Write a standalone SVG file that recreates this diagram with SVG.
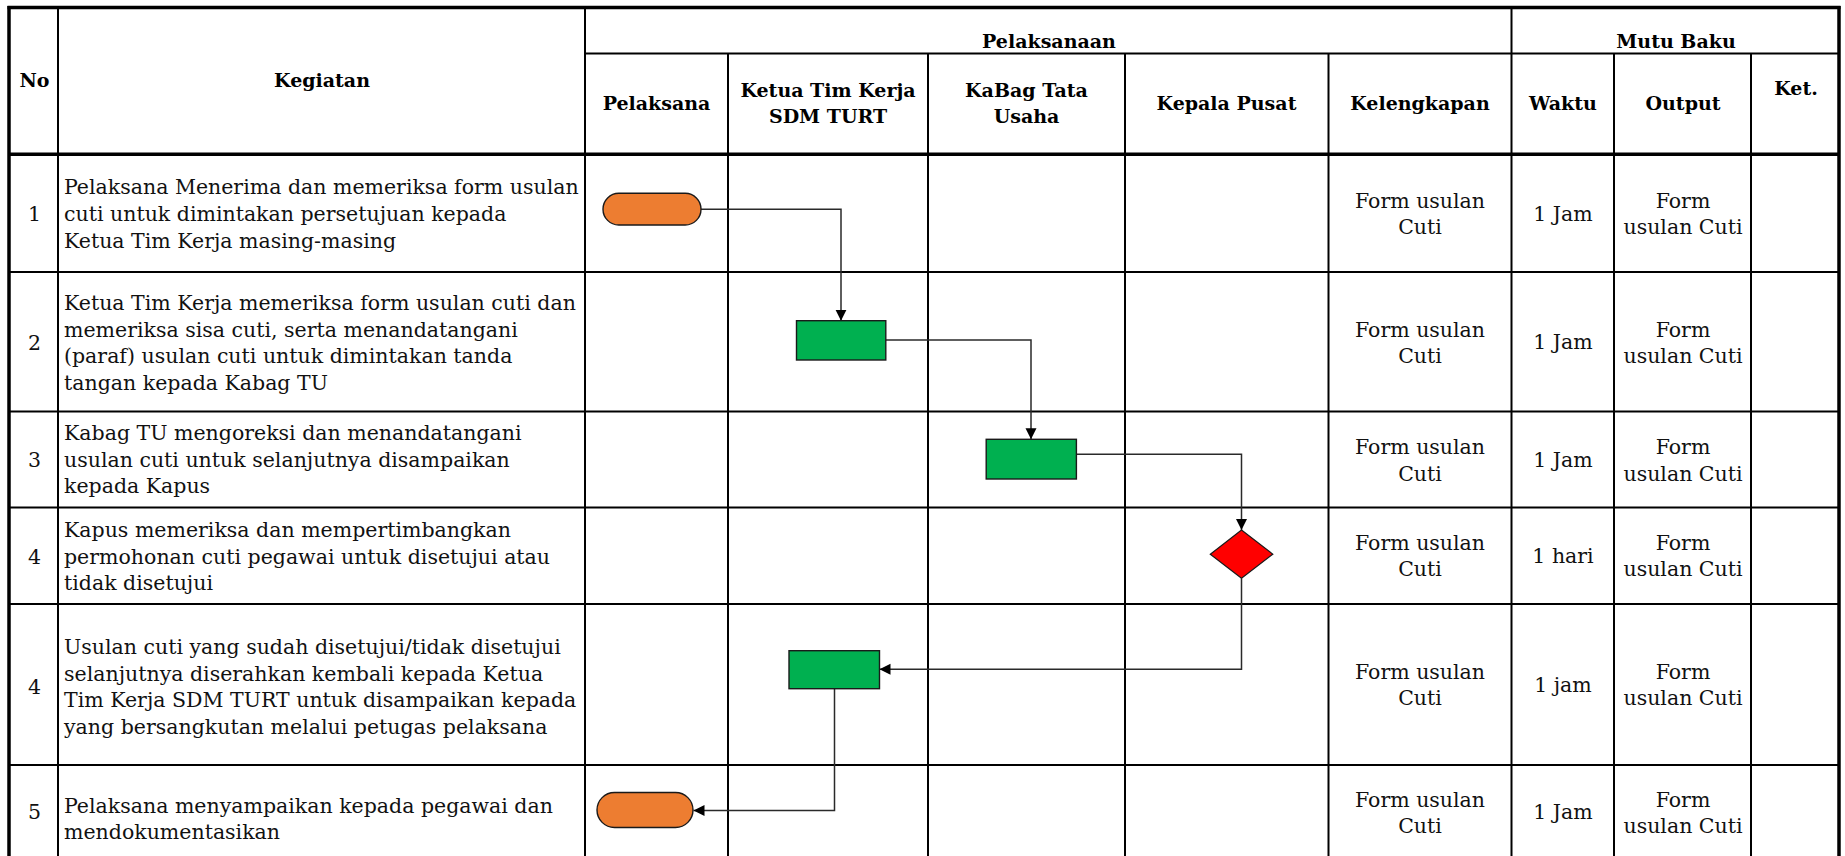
<svg xmlns="http://www.w3.org/2000/svg" width="1845" height="856" viewBox="0 0 1845 856">
<style>
.t{font-family:"DejaVu Serif","Liberation Serif",serif;font-size:20.5px;fill:#111}
.h{font-family:"DejaVu Serif","Liberation Serif",serif;font-size:19px;font-weight:bold;fill:#000}
.c{text-anchor:middle}
.thin{stroke:#000;stroke-width:2;fill:none}
.thick{stroke:#000;stroke-width:3.5;fill:none}
.term{fill:#ED7D31;stroke:#1a1a1a;stroke-width:1.4}
.proc{fill:#00B050;stroke:#1a1a1a;stroke-width:1.4}
.dec{fill:#FF0000;stroke:#1a1a1a;stroke-width:1.2}
.conn{stroke:#2a2a2a;stroke-width:1.5;fill:none}
</style>
<defs>
<marker id="arr" markerUnits="userSpaceOnUse" markerWidth="12" markerHeight="12" viewBox="0 0 12 12" refX="11" refY="6" orient="auto">
<path d="M0,0.5 L11,6 L0,11.5 Z" fill="#000"/>
</marker>
</defs>
<rect width="1845" height="856" fill="#fff"/>
<g id="table">
<line class="thin" x1="585" y1="53.5" x2="1839" y2="53.5"/>
<line class="thin" x1="9" y1="272" x2="1839" y2="272"/>
<line class="thin" x1="9" y1="411.5" x2="1839" y2="411.5"/>
<line class="thin" x1="9" y1="507.5" x2="1839" y2="507.5"/>
<line class="thin" x1="9" y1="604" x2="1839" y2="604"/>
<line class="thin" x1="9" y1="765" x2="1839" y2="765"/>
<line class="thin" x1="58" y1="7.5" x2="58" y2="856"/>
<line class="thin" x1="585" y1="7.5" x2="585" y2="856"/>
<line class="thin" x1="728" y1="53.5" x2="728" y2="856"/>
<line class="thin" x1="928" y1="53.5" x2="928" y2="856"/>
<line class="thin" x1="1125" y1="53.5" x2="1125" y2="856"/>
<line class="thin" x1="1328.5" y1="53.5" x2="1328.5" y2="856"/>
<line class="thin" x1="1511.5" y1="7.5" x2="1511.5" y2="856"/>
<line class="thin" x1="1614" y1="53.5" x2="1614" y2="856"/>
<line class="thin" x1="1751" y1="53.5" x2="1751" y2="856"/>
<line class="thick" x1="9" y1="154.3" x2="1839" y2="154.3"/>
<line class="thick" x1="7.5" y1="7.5" x2="1840.5" y2="7.5"/>
<line class="thick" x1="9" y1="6" x2="9" y2="856"/>
<line class="thick" x1="1839" y1="6" x2="1839" y2="856"/>
</g>
<g id="header">
<text class="h c" x="34.5" y="87">No</text>
<text class="h c" x="322" y="87">Kegiatan</text>
<text class="h c" x="1049" y="48">Pelaksanaan</text>
<text class="h c" x="1676" y="48">Mutu Baku</text>
<text class="h c" x="656.5" y="110">Pelaksana</text>
<text class="h c" x="828" y="97">Ketua Tim Kerja</text>
<text class="h c" x="828" y="123">SDM TURT</text>
<text class="h c" x="1026.5" y="97">KaBag Tata</text>
<text class="h c" x="1026.5" y="123">Usaha</text>
<text class="h c" x="1226.5" y="110">Kepala Pusat</text>
<text class="h c" x="1420" y="110">Kelengkapan</text>
<text class="h c" x="1563" y="110">Waktu</text>
<text class="h c" x="1683" y="110">Output</text>
<text class="h c" x="1796" y="95">Ket.</text>
</g>
<g id="row1">
<text class="t c" x="34.5" y="221">1</text>
<text class="t" x="64" y="194">Pelaksana Menerima dan memeriksa form usulan</text>
<text class="t" x="64" y="221">cuti untuk dimintakan persetujuan kepada</text>
<text class="t" x="64" y="248">Ketua Tim Kerja masing-masing</text>
<text class="t c" x="1420" y="208">Form usulan</text>
<text class="t c" x="1420" y="234">Cuti</text>
<text class="t c" x="1563" y="221">1 Jam</text>
<text class="t c" x="1683" y="208">Form</text>
<text class="t c" x="1683" y="234">usulan Cuti</text>
</g>
<g id="row2">
<text class="t c" x="34.5" y="349.5">2</text>
<text class="t" x="64" y="310">Ketua Tim Kerja memeriksa form usulan cuti dan</text>
<text class="t" x="64" y="336.7">memeriksa sisa cuti, serta menandatangani</text>
<text class="t" x="64" y="363.3">(paraf) usulan cuti untuk dimintakan tanda</text>
<text class="t" x="64" y="390">tangan kepada Kabag TU</text>
<text class="t c" x="1420" y="336.7">Form usulan</text>
<text class="t c" x="1420" y="362.7">Cuti</text>
<text class="t c" x="1563" y="349.3">1 Jam</text>
<text class="t c" x="1683" y="336.7">Form</text>
<text class="t c" x="1683" y="362.7">usulan Cuti</text>
</g>
<g id="row3">
<text class="t c" x="34.5" y="467">3</text>
<text class="t" x="64" y="440">Kabag TU mengoreksi dan menandatangani</text>
<text class="t" x="64" y="466.7">usulan cuti untuk selanjutnya disampaikan</text>
<text class="t" x="64" y="493">kepada Kapus</text>
<text class="t c" x="1420" y="454.3">Form usulan</text>
<text class="t c" x="1420" y="480.7">Cuti</text>
<text class="t c" x="1563" y="467.3">1 Jam</text>
<text class="t c" x="1683" y="454.3">Form</text>
<text class="t c" x="1683" y="480.7">usulan Cuti</text>
</g>
<g id="row4">
<text class="t c" x="34.5" y="563.5">4</text>
<text class="t" x="64" y="537">Kapus memeriksa dan mempertimbangkan</text>
<text class="t" x="64" y="563.5">permohonan cuti pegawai untuk disetujui atau</text>
<text class="t" x="64" y="590">tidak disetujui</text>
<text class="t c" x="1420" y="550">Form usulan</text>
<text class="t c" x="1420" y="576">Cuti</text>
<text class="t c" x="1563" y="562.7">1 hari</text>
<text class="t c" x="1683" y="550">Form</text>
<text class="t c" x="1683" y="576">usulan Cuti</text>
</g>
<g id="row5">
<text class="t c" x="34.5" y="693.5">4</text>
<text class="t" x="64" y="653.5">Usulan cuti yang sudah disetujui/tidak disetujui</text>
<text class="t" x="64" y="680.5">selanjutnya diserahkan kembali kepada Ketua</text>
<text class="t" x="64" y="707.3">Tim Kerja SDM TURT untuk disampaikan kepada</text>
<text class="t" x="64" y="734">yang bersangkutan melalui petugas pelaksana</text>
<text class="t c" x="1420" y="679.3">Form usulan</text>
<text class="t c" x="1420" y="705">Cuti</text>
<text class="t c" x="1563" y="691.7">1 jam</text>
<text class="t c" x="1683" y="679.3">Form</text>
<text class="t c" x="1683" y="705">usulan Cuti</text>
</g>
<g id="row6">
<text class="t c" x="34.5" y="819">5</text>
<text class="t" x="64" y="812.7">Pelaksana menyampaikan kepada pegawai dan</text>
<text class="t" x="64" y="839">mendokumentasikan</text>
<text class="t c" x="1420" y="806.7">Form usulan</text>
<text class="t c" x="1420" y="832.7">Cuti</text>
<text class="t c" x="1563" y="819.3">1 Jam</text>
<text class="t c" x="1683" y="806.7">Form</text>
<text class="t c" x="1683" y="832.7">usulan Cuti</text>
</g>
<g id="connectors">
<polyline class="conn" points="701,209.2 841,209.2 841,320.7" marker-end="url(#arr)"/>
<polyline class="conn" points="886,340 1031,340 1031,439.3" marker-end="url(#arr)"/>
<polyline class="conn" points="1077,454.3 1241.5,454.3 1241.5,530" marker-end="url(#arr)"/>
<polyline class="conn" points="1241.5,578.3 1241.5,669.3 879.5,669.3" marker-end="url(#arr)"/>
<polyline class="conn" points="834.5,688.7 834.5,810.5 693.5,810.5" marker-end="url(#arr)"/>
</g>
<g id="start">
<rect class="term" x="603" y="193.3" width="98" height="31.7" rx="15.8" ry="15.8"/>
</g>
<g id="ketua-check">
<rect class="proc" x="796.5" y="320.7" width="89.3" height="39.3"/>
</g>
<g id="kabag-sign">
<rect class="proc" x="986.2" y="439.3" width="90.2" height="39.7"/>
</g>
<g id="kapus-decision">
<polygon class="dec" points="1241.5,530 1272.8,554.2 1241.5,578.3 1210.3,554.2"/>
</g>
<g id="ketua-return">
<rect class="proc" x="789" y="650.7" width="90.5" height="38"/>
</g>
<g id="end">
<rect class="term" x="597" y="792.5" width="96" height="35" rx="17.5" ry="17.5"/>
</g>
</svg>
